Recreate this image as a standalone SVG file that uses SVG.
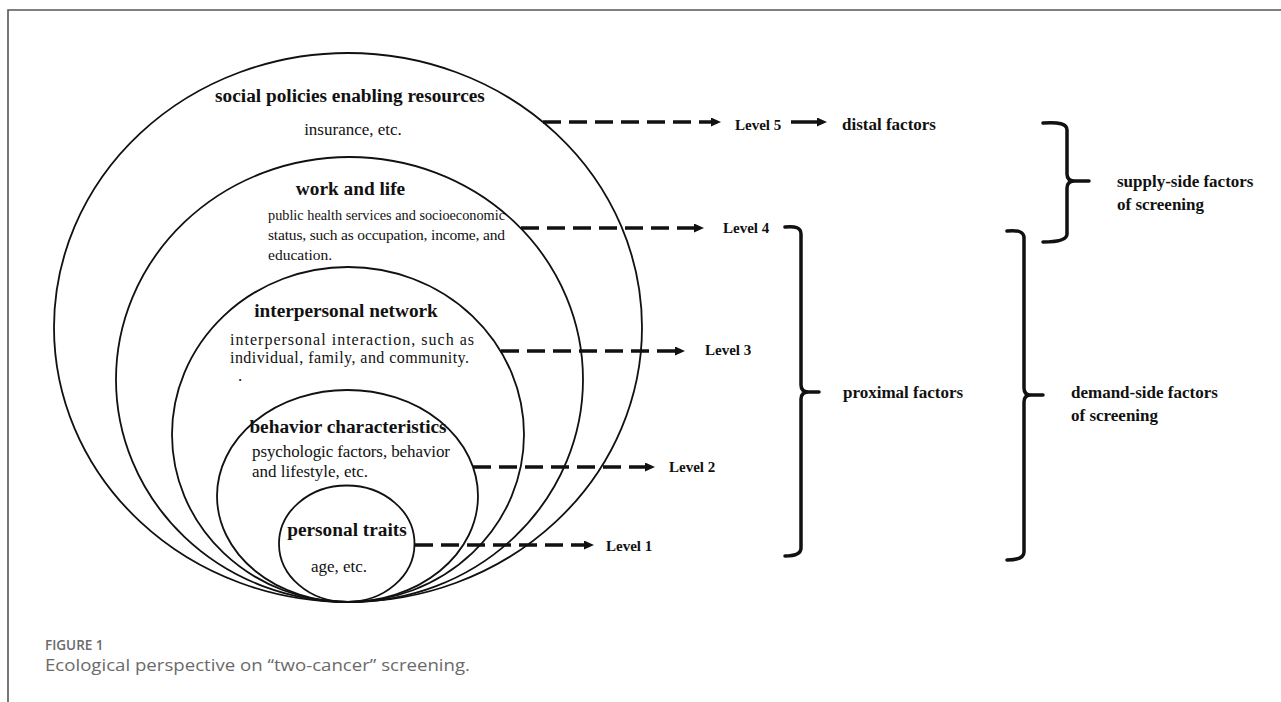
<svg xmlns="http://www.w3.org/2000/svg" width="1281" height="702" viewBox="0 0 1281 702">
  <style>
    .ring { fill: none; stroke: #111; stroke-width: 1.8; }
    .title { font-family: "Liberation Serif", "Times New Roman", serif; font-weight: bold; font-size: 19.3px; fill: #111; text-anchor: middle; }
    .body { font-family: "Liberation Serif", "Times New Roman", serif; font-size: 17px; fill: #111; }
    .wl { font-size: 15.5px; }
    .ip { font-size: 16px; }
    .lvl { font-family: "Liberation Serif", "Times New Roman", serif; font-weight: bold; font-size: 15px; fill: #111; }
    .lab { font-family: "Liberation Serif", "Times New Roman", serif; font-weight: bold; font-size: 17px; fill: #111; }
    .dash { fill: none; stroke: #111; stroke-width: 3.5; stroke-dasharray: 18 8; }
    .solid { fill: none; stroke: #111; stroke-width: 3.5; }
    .brace { fill: none; stroke: #111; stroke-width: 3.5; stroke-linecap: round; stroke-linejoin: round; }
    .frame { fill: none; stroke: #555; stroke-width: 1.6; }
    .capt { font-family: "Open Sans", "Liberation Sans", sans-serif; fill: #6a6a6a; }
  </style>
  <defs>
    <marker id="ah" markerUnits="userSpaceOnUse" markerWidth="11" markerHeight="10" refX="1" refY="4.5" orient="auto">
      <path d="M0,0 L10,4.5 L0,9 z" fill="#111"/>
    </marker>
  </defs>

  <rect width="1281" height="702" fill="#fff"/>
  <path class="frame" d="M8,702 V10 H1281"/>

  <g id="level5-node">
    <ellipse class="ring" cx="348" cy="327.5" rx="294" ry="274.5"/>
    <text class="title" x="350" y="102">social policies enabling resources</text>
    <text class="body" x="353" y="135" text-anchor="middle">insurance, etc.</text>
  </g>

  <g id="level4-node">
    <ellipse class="ring" cx="349.5" cy="379.5" rx="233.5" ry="222.5"/>
    <text class="title" x="350.5" y="195">work and life</text>
    <text class="body wl" x="268" y="220" textLength="237" lengthAdjust="spacingAndGlyphs">public health services and socioeconomic</text>
    <text class="body wl" x="268" y="240" textLength="237" lengthAdjust="spacing">status, such as occupation, income, and</text>
    <text class="body wl" x="268" y="260">education.</text>
  </g>

  <g id="level3-node">
    <ellipse class="ring" cx="348" cy="434.5" rx="176" ry="167.5"/>
    <text class="title" x="346" y="317">interpersonal network</text>
    <text class="body ip" x="230" y="345" textLength="244" lengthAdjust="spacing">interpersonal interaction, such as</text>
    <text class="body ip" x="230" y="363" textLength="239" lengthAdjust="spacing">individual, family, and community.</text>
    <text class="body" x="238" y="381" font-size="9">.</text>
  </g>

  <g id="level2-node">
    <ellipse class="ring" cx="347.5" cy="496" rx="130.5" ry="106"/>
    <text class="title" x="348" y="433">behavior characteristics</text>
    <text class="body" x="252" y="457" textLength="198" lengthAdjust="spacing">psychologic factors, behavior</text>
    <text class="body" x="252" y="477">and lifestyle, etc.</text>
  </g>

  <g id="level1-node">
    <ellipse class="ring" cx="346.75" cy="543.75" rx="67.75" ry="58.25"/>
    <text class="title" x="347" y="536">personal traits</text>
    <text class="body" x="339" y="572" text-anchor="middle">age, etc.</text>
  </g>

  <g id="connectors">
    <path class="dash" d="M543,122 H712" marker-end="url(#ah)"/>
    <path class="solid" d="M791,122 H818" marker-end="url(#ah)"/>
    <path class="dash" d="M521,228 H695" marker-end="url(#ah)"/>
    <path class="dash" d="M501,351 H676" marker-end="url(#ah)"/>
    <path class="dash" d="M473,467 H646" marker-end="url(#ah)"/>
    <path class="dash" d="M415,545 H585" marker-end="url(#ah)"/>
    <path id="brace-proximal" class="brace" d="M785,227 Q801,225 801,234 V385 Q801,392 809,392 H819 M809,392 Q801,392 801,399 V548 Q801,556 785,556"/>
    <path id="brace-supply" class="brace" d="M1043,123 Q1067,121 1067,130 V174 Q1067,181 1075,181 H1089 M1075,181 Q1067,181 1067,188 V234 Q1067,242 1043,242"/>
    <path id="brace-demand" class="brace" d="M1007,231 Q1024,229 1024,238 V388 Q1024,395 1031,395 H1043 M1031,395 Q1024,395 1024,402 V552 Q1024,560 1007,560"/>
  </g>

  <g id="labels">
    <text class="lvl" x="735" y="130">Level 5</text>
    <text class="lvl" x="723" y="233">Level 4</text>
    <text class="lvl" x="705" y="355">Level 3</text>
    <text class="lvl" x="669" y="472">Level 2</text>
    <text class="lvl" x="606" y="551">Level 1</text>
    <text class="lab" x="842" y="130">distal factors</text>
    <text class="lab" x="843" y="398">proximal factors</text>
    <text class="lab" x="1117" y="187">supply-side factors</text>
    <text class="lab" x="1117" y="210">of screening</text>
    <text class="lab" x="1071" y="398">demand-side factors</text>
    <text class="lab" x="1071" y="421">of screening</text>
  </g>

  <g id="caption">
    <text class="capt" x="45" y="650" font-size="13.5" font-weight="600">FIGURE 1</text>
    <text class="capt" x="45" y="671" font-size="16.5" textLength="425" lengthAdjust="spacingAndGlyphs">Ecological perspective on “two-cancer” screening.</text>
  </g>
</svg>
